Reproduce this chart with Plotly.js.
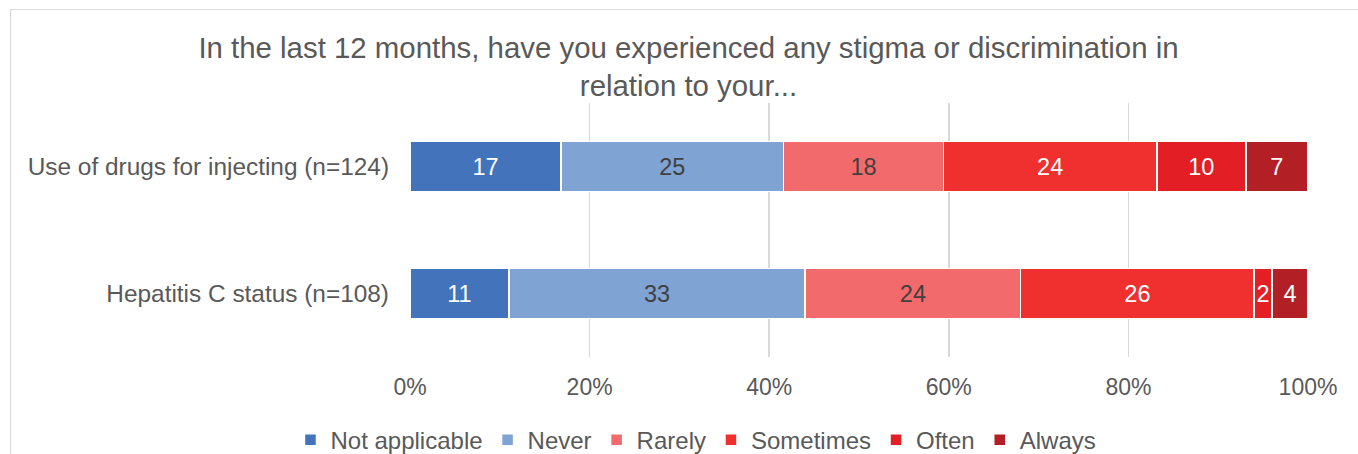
<!DOCTYPE html>
<html>
<head>
<meta charset="utf-8">
<script src="https://cdn.plot.ly/plotly-3.0.1.min.js"></script>
<style>
  html, body { margin: 0; padding: 0; background: #fff; overflow: hidden; }
  #wrap { position: relative; width: 1358px; height: 454px; }
  #chart { position: absolute; left: 0; top: 0; width: 1358px; height: 454px; }
  #frame { position: absolute; left: 10px; top: 9px; width: 1400px; height: 500px;
           border: 1.5px solid #D9D9D9; pointer-events: none; box-sizing: border-box; }
</style>
</head>
<body>
<div id="wrap">
  <div id="chart"></div>
  <div id="frame"></div>
</div>
<script>
const categories = ["Use of drugs for injecting (n=124)", "Hepatitis C status (n=108)"];
const seriesNames = ["Not applicable", "Never", "Rarely", "Sometimes", "Often", "Always"];
const notApplicable = [17, 11];
const never = [25, 33];
const rarely = [18, 24];
const sometimes = [24, 26];
const often = [10, 2];
const always = [7, 4];
const xTickVals = [0, 20, 40, 60, 80, 100];

const seriesValues = [notApplicable, never, rarely, sometimes, often, always];
const colors = ["#4273BB", "#7FA3D3", "#F26A6B", "#EF302F", "#E31E25", "#B21F24"];
const textColors = ["#FFFFFF", "#404040", "#404040", "#FFFFFF", "#FFFFFF", "#FFFFFF"];

const traces = seriesNames.map((name, i) => ({
  type: "bar",
  orientation: "h",
  name: name,
  y: categories,
  x: seriesValues[i],
  text: seriesValues[i].map(String),
  textposition: "inside",
  insidetextanchor: "middle",
  textangle: 0,
  textfont: { size: 23.5, color: textColors[i], family: "Liberation Sans, Arial, sans-serif" },
  marker: { color: colors[i], line: { color: "#FFFFFF", width: 1.5 } },
  hoverinfo: "name+text"
}));

const layout = {
  width: 1358,
  height: 454,
  barmode: "stack",
  barnorm: "percent",
  bargap: 0.606,
  paper_bgcolor: "#FFFFFF",
  plot_bgcolor: "#FFFFFF",
  font: { family: "Liberation Sans, Arial, sans-serif", color: "#595959", size: 23 },
  margin: { l: 410, r: 50, t: 103, b: 97, autoexpand: false },
  uniformtext: { mode: "show", minsize: 23.5 },
  title: {
    text: "In the last 12 months, have you experienced any stigma or discrimination in<br>relation to your...",
    font: { size: 29.4, color: "#595959", family: "Liberation Sans, Arial, sans-serif" },
    xref: "container", x: 0.507, xanchor: "center",
    yref: "container", y: 0.873, yanchor: "top"
  },
  xaxis: {
    range: [0, 100],
    tickvals: xTickVals,
    ticktext: xTickVals.map(v => v + "%"),
    showgrid: true,
    gridcolor: "#D9D9D9",
    gridwidth: 1.5,
    zeroline: false,
    showline: false,
    ticks: "",
    ticklabelstandoff: 14,
    tickfont: { size: 23, color: "#595959" },
    fixedrange: true
  },
  yaxis: {
    autorange: "reversed",
    showgrid: false,
    zeroline: false,
    showline: false,
    ticks: "",
    ticklabelstandoff: 20,
    tickfont: { size: 24.4, color: "#595959" },
    fixedrange: true
  },
  showlegend: true,
  legend: {
    orientation: "h",
    xref: "container",
    x: 0.5125,
    xanchor: "center",
    y: -0.327,
    yanchor: "middle",
    font: { size: 24, color: "#595959" },
    traceorder: "normal",
    itemclick: false,
    itemdoubleclick: false
  }
};

Plotly.newPlot("chart", traces, layout, { displayModeBar: false, staticPlot: true });
</script>
</body>
</html>
